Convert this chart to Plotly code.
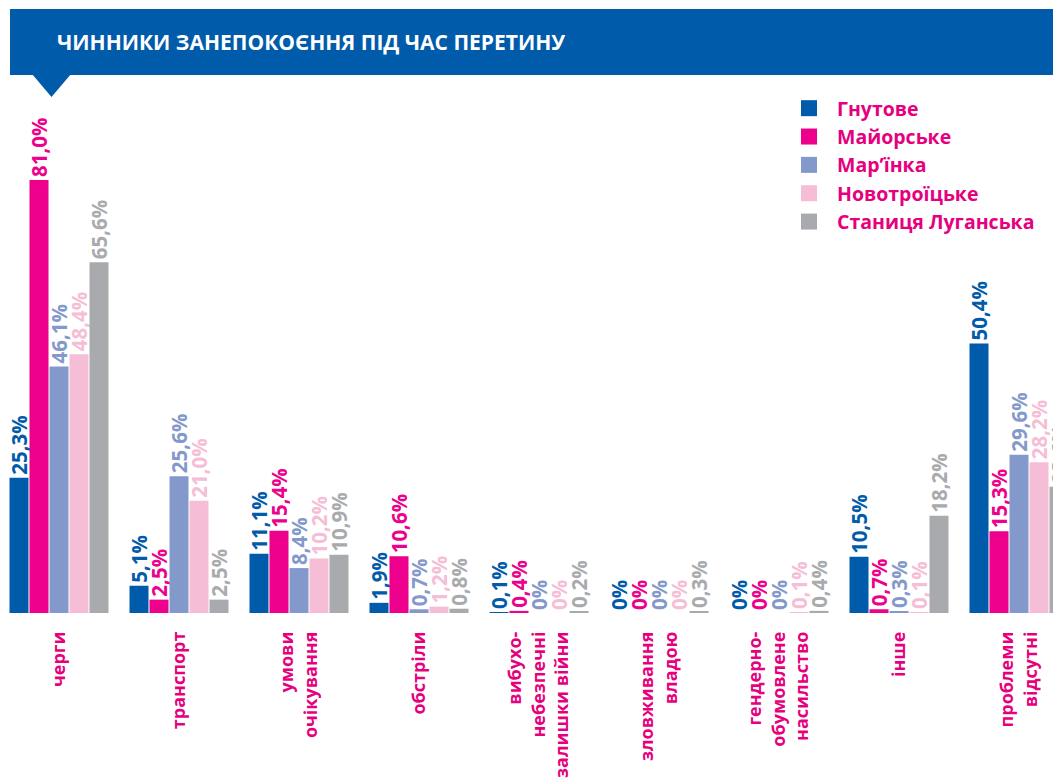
import plotly.graph_objects as go

categories = ["черги", "транспорт", "умови<br>очікування", "обстріли",
              "вибухо-<br>небезпечні<br>залишки війни", "зловживання<br>владою",
              "гендерно-<br>обумовлене<br>насильство", "інше", "проблеми<br>відсутні"]
series_names = ["Гнутове", "Майорське", "Мар’їнка", "Новотроїцьке", "Станиця Луганська"]
hnutove = [25.3, 5.1, 11.1, 1.9, 0.1, 0, 0, 10.5, 50.4]
maiorske = [81.0, 2.5, 15.4, 10.6, 0.4, 0, 0, 0.7, 15.3]
marinka = [46.1, 25.6, 8.4, 0.7, 0, 0, 0, 0.3, 29.6]
novotroitske = [48.4, 21.0, 10.2, 1.2, 0, 0, 0.1, 0.1, 28.2]
stanytsia = [65.6, 2.5, 10.9, 0.8, 0.2, 0.3, 0.4, 18.2, 23.6]
title_text = "ЧИННИКИ ЗАНЕПОКОЄННЯ ПІД ЧАС ПЕРЕТИНУ"

colors = ["#005BAA", "#EC008C", "#8499CB", "#F6BED6", "#A9AAAD"]
series = [hnutove, maiorske, marinka, novotroitske, stanytsia]
MAGENTA = "#E6007E"
FONT = "Open Sans"

W, H = 1061, 780
OFF = 8  # page body margin offset
BASE = 613 - OFF  # baseline in figure px
T = 100 - OFF
B = H - BASE
PPU = 5.346  # pixels per percent


def fmt(v):
    if v == 0:
        return "0%"
    return f"{v:.1f}".replace(".", ",") + "%"


fig = go.Figure()
for name, vals, col in zip(series_names, series, colors):
    fig.add_trace(go.Bar(
        x=list(range(len(categories))), y=vals, name=name, showlegend=False,
        marker=dict(color=col, line=dict(width=0)),
        text=[fmt(v) for v in vals], textposition="outside", textangle=-90,
        constraintext="none", cliponaxis=False,
        textfont=dict(family=FONT, size=20.5, color=col, weight="bold"),
    ))
# legend entries with larger square swatches
for name, col in zip(series_names, colors):
    fig.add_trace(go.Scatter(
        x=[None], y=[None], mode="markers", name=name,
        marker=dict(symbol="square", size=16, color=col, line=dict(width=0)),
    ))


def px_x(px):
    return (px - OFF) / W


def px_y(py):
    return (BASE - (py - OFF)) / (BASE - T)


shapes = [
    dict(type="rect", xref="paper", yref="paper", x0=px_x(10), x1=px_x(1075),
         y0=px_y(75), y1=px_y(9), fillcolor="#005BAA", line=dict(width=0), layer="below"),
    dict(type="path", xref="paper", yref="paper",
         path=f"M {px_x(32)} {px_y(74)} L {px_x(71)} {px_y(74)} L {px_x(51.5)} {px_y(97)} Z",
         fillcolor="#005BAA", line=dict(width=0), layer="below"),
]

x0 = -(59 - OFF) / 120

fig.update_layout(
    width=W, height=H,
    margin=dict(l=0, r=0, t=T, b=B),
    paper_bgcolor="white", plot_bgcolor="white",
    barmode="group", bargap=1/6, bargroupgap=0.05,
    showlegend=True,
    legend=dict(x=px_x(781), y=px_y(89), xanchor="left", yanchor="top",
                font=dict(family=FONT, size=19.5, color=MAGENTA, weight="bold"),
                bgcolor="rgba(0,0,0,0)", itemwidth=46, itemsizing="trace",
                tracegroupgap=0),
    xaxis=dict(range=[x0, x0 + W / 120], tickmode="array",
               tickvals=list(range(len(categories))), ticktext=categories,
               tickangle=-90, showgrid=False, zeroline=False, showline=False,
               ticks="", ticklabelstandoff=14,
               tickfont=dict(family=FONT, size=18, color=MAGENTA, weight="bold")),
    yaxis=dict(range=[0, (BASE - T) / PPU], visible=False, showgrid=False,
               zeroline=False),
    shapes=shapes,
    annotations=[dict(text=title_text, xref="paper", yref="paper",
                      x=px_x(55), y=px_y(42), xanchor="left", yanchor="middle",
                      showarrow=False,
                      font=dict(family=FONT, size=21, color="white", weight="bold"))],
)

fig.write_html("out.html")
